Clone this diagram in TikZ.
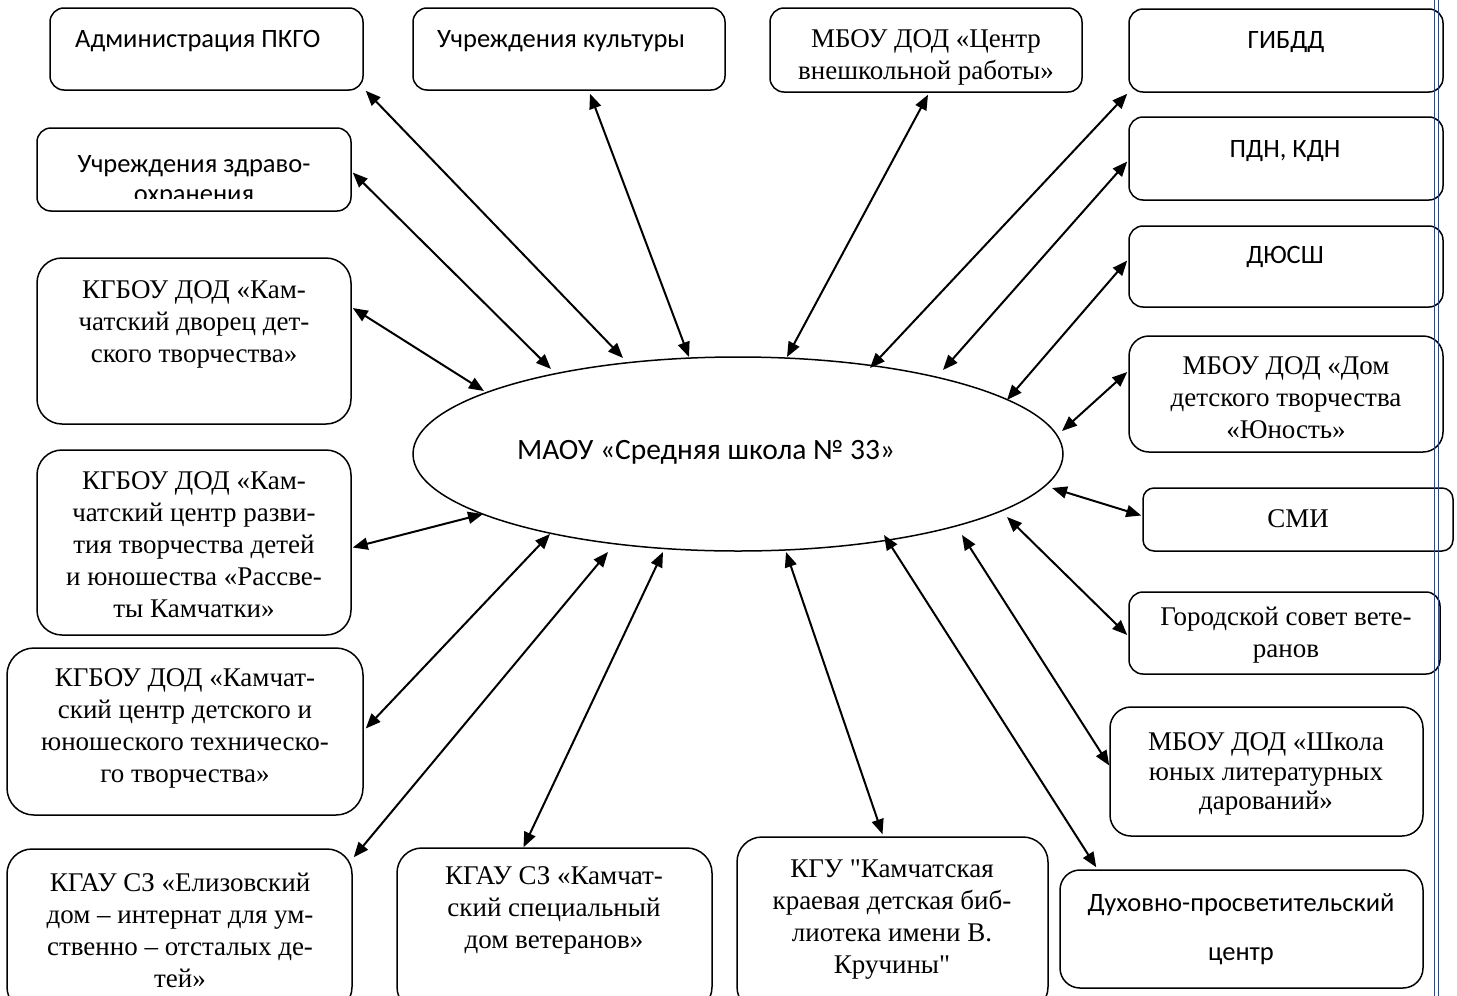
\documentclass[tikz,border=0pt]{standalone}
\usepackage{fontspec}
\setmainfont{Liberation Serif}[Ligatures=TeXOff]
\newfontfamily\sansf{Carlito}[Ligatures=TeXOff]
\usetikzlibrary{arrows.meta,shapes.geometric}
\definecolor{bord}{RGB}{44,74,128}
\newcommand\mkbox[6]{\node[rbox, rounded corners=#6, minimum width={#4-#2}, minimum height={#5-#3}] (#1) at ({(#2+#4)/2},{(#3+#5)/2}) {};}
\begin{document}
\begin{tikzpicture}[x=1pt,y=-1pt,
  rbox/.style={draw, line width=1.5pt, inner sep=0pt, fill=white},
  ser/.style={font=\fontsize{27}{32}\selectfont, align=center, inner sep=0pt},
  san/.style={font=\sansf\fontsize{26.5}{30}\selectfont, align=center, inner sep=0pt},
  dar/.style={arrows={Triangle[length=15pt,width=12pt]-Triangle[length=15pt,width=12pt]}, line width=2pt}]
\useasboundingbox (0,0) rectangle (1457,996);
\fill[white] (0,0) rectangle (1457,996);
% boxes
\mkbox{adm}{50}{8}{363}{90}{14pt}
\mkbox{kult}{413}{8}{725}{90}{14pt}
\mkbox{cvr}{770}{8}{1082}{92}{14pt}
\mkbox{gibdd}{1129}{9}{1443}{92}{14pt}
\mkbox{zdr}{37}{128}{351}{211}{14pt}
\mkbox{pdn}{1129}{117}{1443}{200}{14pt}
\mkbox{dvor}{37}{258}{351}{424}{25pt}
\mkbox{dyussh}{1129}{226}{1443}{307}{14pt}
\mkbox{yun}{1129}{336}{1443}{452}{20pt}
\mkbox{ras}{37}{450}{351}{635}{25pt}
\mkbox{smi}{1143}{488}{1453}{551}{11pt}
\mkbox{gor}{1129}{592}{1440}{674}{14pt}
\mkbox{tech}{7}{648}{363}{815}{27pt}
\mkbox{shk}{1110}{707}{1423}{836}{21pt}
\mkbox{eliz}{7}{849}{352}{1012}{25pt}
\mkbox{kspec}{397}{848}{712}{1012}{25pt}
\mkbox{kgu}{737}{837}{1048}{1012}{25pt}
\mkbox{dukh}{1060}{870}{1423}{988}{20pt}
% central ellipse
\node[draw, ellipse, line width=1.5pt, inner sep=0pt, minimum width=650, minimum height=194] (sch) at (738,454) {};
% connectors
\draw[dar] ([shift={(2,0)}]adm.south east) -- ([shift={(-115,-96)}]sch.center);
\draw[dar] ([shift={(21,3)}]kult.south) -- ([shift={(-49,-97)}]sch.center);
\draw[dar] ([shift={(2,2)}]cvr.south) -- ([shift={(49,-97)}]sch.center);
\draw[dar] ([shift={(-1,1)}]gibdd.south west) -- ([shift={(132,-86)}]sch.center);
\draw[dar] ([shift={(1,3)}]zdr.east) -- ([shift={(-187,-85)}]sch.center);
\draw[dar] ([shift={(-1,3)}]pdn.west) -- ([shift={(205,-84)}]sch.center);
\draw[dar] ([shift={(1,-33)}]dvor.east) -- ([shift={(-254,-63)}]sch.center);
\draw[dar] ([shift={(-1,-6)}]dyussh.west) -- ([shift={(269,-54)}]sch.center);
\draw[dar] ([shift={(-1,-22)}]yun.west) -- ([shift={(324,-23)}]sch.center);
\draw[dar] ([shift={(1,5)}]ras.east) -- ([shift={(-255,60)}]sch.center);
\draw[dar] ([shift={(-1,-4)}]smi.west) -- ([shift={(314,34)}]sch.center);
\draw[dar] ([shift={(-1,2)}]gor.west) -- ([shift={(269,63)}]sch.center);
\draw[dar] ([shift={(2,-3)}]tech.east) -- ([shift={(-188,80)}]sch.center);
\draw[dar] ([shift={(0,-6)}]shk.west) -- ([shift={(224,81)}]sch.center);
\draw[dar] ([shift={(1,9)}]eliz.north east) -- ([shift={(-130,98)}]sch.center);
\draw[dar] ([shift={(-31,0)}]kspec.north) -- ([shift={(-75,98)}]sch.center);
\draw[dar] ([shift={(-10,-2)}]kgu.north) -- ([shift={(48,98)}]sch.center);
\draw[dar] ([shift={(37,-2)}]dukh.north west) -- ([shift={(146,81)}]sch.center);
% texts
\node[san, anchor=base west] (t-adm) at (75,47) {Администрация ПКГО};
\node[san, anchor=base west] (t-kult) at (437,47) {Учреждения культуры};
\node[ser] (t-cvr) at (926,57) {МБОУ ДОД «Центр\\внешкольной работы»};
\node[san, anchor=base] (t-gibdd) at (1286,48) {ГИБДД};
\begin{scope}
\clip (37,128) rectangle (351,198);
\node[san] (t-zdr) at (194,181) {Учреждения здраво-\\охранения};
\end{scope}
\node[san, anchor=base] (t-pdn) at (1285,157) {ПДН, КДН};
\node[ser] (t-dvor) at (194,324) {КГБОУ ДОД «Кам-\\чатский дворец дет-\\ского творчества»};
\node[san, anchor=base] (t-dyussh) at (1285,263) {ДЮСШ};
\node[ser] (t-yun) at (1286,398) {МБОУ ДОД «Дом\\детского творчества\\«Юность»};
\node[font=\sansf\fontsize{29.5}{34}\selectfont, inner sep=0pt, anchor=base west] (t-sch) at (517,459) {МАОУ «Средняя школа № 33»};
\node[ser] (t-ras) at (194,545) {КГБОУ ДОД «Кам-\\чатский центр разви-\\тия творчества детей\\и юношества «Рассве-\\ты Камчатки»};
\node[ser, anchor=base] (t-smi) at (1298,527) {СМИ};
\node[ser] (t-gor) at (1286,635) {Городской совет вете-\\ранов};
\node[ser] (t-tech) at (185,728) {КГБОУ ДОД «Камчат-\\ский центр детского и\\юношеского техническо-\\го творчества»};
\node[ser, font=\fontsize{27}{29.5}\selectfont] (t-shk) at (1266,774) {МБОУ ДОД «Школа\\юных литературных\\дарований»};
\node[ser] (t-eliz) at (180,930) {КГАУ СЗ «Елизовский\\дом – интернат для ум-\\ственно – отсталых де-\\тей»};
\node[ser] (t-kspec) at (554,910) {КГАУ СЗ «Камчат-\\ский специальный\\дом ветеранов»};
\node[ser] (t-kgu) at (892,920) {КГУ "Камчатская\\краевая детская биб-\\лиотека имени В.\\Кручины"};
\node[san, font=\sansf\fontsize{26.5}{49}\selectfont] (t-dukh) at (1241,929) {Духовно-просветительский\\центр};
% page border line
\draw[bord, line width=1pt] (1434.5,0) -- (1434.5,996);
\draw[bord, line width=1pt] (1438.5,0) -- (1438.5,996);
\end{tikzpicture}
\end{document}
